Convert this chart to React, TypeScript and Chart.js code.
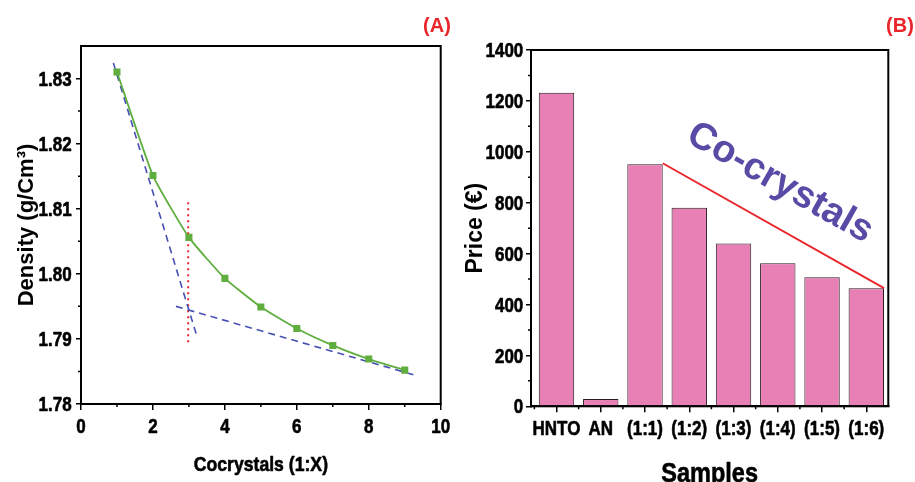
import React, { useEffect, useRef } from "react";
import { Chart, registerables } from "chart.js";
Chart.register(...registerables);

// ---- Panel A data ----
const ratioX = [1, 2, 3, 4, 5, 6, 7, 8, 9];
const density = [1.831, 1.8151, 1.8056, 1.7993, 1.7949, 1.7916, 1.789, 1.7869, 1.7852];
const tangent1X = [0.9, 3.2];
const tangent1Y = [1.8324, 1.7908];
const tangent2X = [2.64, 9.24];
const tangent2Y = [1.795, 1.7845];
const markerX = [2.98, 2.98];
const markerY = [1.811, 1.7889];
const densityMinorTicks = [1.785, 1.795, 1.805, 1.815, 1.825];
const ratioMinorTicks = [1, 3, 5, 7, 9];

// ---- Panel B data ----
const samples = ["HNTO", "AN", "(1:1)", "(1:2)", "(1:3)", "(1:4)", "(1:5)", "(1:6)"];
const prices = [1232, 29, 951, 780, 640, 562, 507, 464];
const trendX = [2.4, 7.4];
const trendY = [955, 464];
const priceMinorTicks = [100, 300, 500, 700, 900, 1100, 1300];
const sampleMinorTicks = [-0.5, 0.5, 1.5, 2.5, 3.5, 4.5, 5.5, 6.5];

const REG = '"Liberation Sans", Arial, sans-serif';
const GREEN = "#5fae3e";
const BLUE = "#4650b4";
const RED = "#e9262c";
const PINK = "#e980b5";
const PURPLE = "#5a4aa6";
const SX = 0.85; // horizontal condensing of the reference's narrow bold type

const pts = (xs: number[], ys: number[]) => xs.map((x, i) => ({ x, y: ys[i] }));

function narrowText(
  ctx: CanvasRenderingContext2D,
  text: string,
  x: number,
  y: number,
  size: number,
  align: "left" | "center" | "right",
  sx = SX,
  color = "#000"
) {
  ctx.save();
  ctx.font = `bold ${size}px ${REG}`;
  ctx.fillStyle = color;
  ctx.strokeStyle = color;
  ctx.lineWidth = 0.6;
  ctx.lineJoin = "round";
  ctx.textBaseline = "alphabetic";
  ctx.textAlign = "left";
  const w = ctx.measureText(text).width * sx;
  const x0 = align === "center" ? x - w / 2 : align === "right" ? x - w : x;
  ctx.translate(x0, y);
  ctx.scale(sx, 1);
  ctx.fillText(text, 0, 0);
  ctx.strokeText(text, 0, 0);
  ctx.restore();
}

function drawFrameAndMinors(chart: any, xMinor: number[], yMinor: number[]) {
  const { ctx, chartArea, scales } = chart;
  const { left, right, top, bottom } = chartArea;
  ctx.save();
  ctx.strokeStyle = "#000";
  ctx.lineWidth = 2;
  ctx.strokeRect(left, top, right - left, bottom - top);
  ctx.lineWidth = 1.5;
  ctx.beginPath();
  yMinor.forEach((v) => {
    const y = scales.y.getPixelForValue(v);
    ctx.moveTo(left, y);
    ctx.lineTo(left - 3, y);
  });
  xMinor.forEach((v) => {
    const x = scales.x.getPixelForValue(v);
    if (x < left - 0.5 || x > right + 0.5) return;
    ctx.moveTo(x, bottom);
    ctx.lineTo(x, bottom + 3);
  });
  ctx.stroke();
  ctx.restore();
}

function drawTickLabels(
  chart: any,
  xFmt: (v: number) => string,
  yFmt: (v: number) => string,
  yGap: number,
  xBase: number,
  size: number
) {
  const { ctx, chartArea, scales } = chart;
  scales.y.ticks.forEach((t: any) => {
    const y = scales.y.getPixelForValue(t.value);
    narrowText(ctx, yFmt(t.value), chartArea.left - yGap, y + 0.358 * size, size, "right");
  });
  scales.x.ticks.forEach((t: any) => {
    const x = scales.x.getPixelForValue(t.value);
    narrowText(ctx, xFmt(t.value), x, chartArea.bottom + xBase, size, "center");
  });
}

function panelLabel(ctx: CanvasRenderingContext2D, text: string, x: number, y: number) {
  ctx.save();
  ctx.fillStyle = RED;
  ctx.font = `bold 20px ${REG}`;
  ctx.textAlign = "center";
  ctx.textBaseline = "middle";
  ctx.fillText(text, x, y);
  ctx.restore();
}

export default function App() {
  const refA = useRef<HTMLCanvasElement>(null);
  const refB = useRef<HTMLCanvasElement>(null);

  useEffect(() => {
    const chartA = new Chart(refA.current!, {
      type: "scatter",
      data: {
        datasets: [
          {
            data: pts(ratioX, density),
            showLine: true,
            borderColor: GREEN,
            backgroundColor: GREEN,
            borderWidth: 1.8,
            pointStyle: "rect",
            pointRadius: 5,
            pointBorderWidth: 0,
            tension: 0.15,
          },
          {
            data: pts(tangent1X, tangent1Y),
            showLine: true,
            borderColor: BLUE,
            borderDash: [7, 5],
            borderWidth: 1.6,
            pointRadius: 0,
          },
          {
            data: pts(tangent2X, tangent2Y),
            showLine: true,
            borderColor: BLUE,
            borderDash: [7, 5],
            borderWidth: 1.6,
            pointRadius: 0,
          },
          {
            data: pts(markerX, markerY),
            showLine: true,
            borderColor: RED,
            borderDash: [2, 4],
            borderWidth: 2,
            pointRadius: 0,
          },
        ],
      },
      options: {
        animation: false,
        responsive: false,
        devicePixelRatio: 1,
        layout: { padding: { left: 0, right: 19.3, top: 46, bottom: 0 } },
        plugins: { legend: { display: false }, tooltip: { enabled: false } },
        scales: {
          x: {
            type: "linear",
            min: 0,
            max: 10,
            afterFit: (s: any) => {
              s.height = 78;
            },
            ticks: { display: false, stepSize: 2, includeBounds: false },
            grid: { drawOnChartArea: false, tickLength: 6, color: "#000", lineWidth: 1.5 },
            border: { color: "#000", width: 2 },
          },
          y: {
            type: "linear",
            min: 1.78,
            max: 1.835,
            afterFit: (s: any) => {
              s.width = 81;
            },
            ticks: { display: false, stepSize: 0.01, includeBounds: false },
            grid: { drawOnChartArea: false, tickLength: 5, color: "#000", lineWidth: 1.5 },
            border: { color: "#000", width: 2 },
            title: {
              display: true,
              text: "Density (g/Cm³)",
              color: "#000",
              font: { family: REG, size: 22, weight: "bold" },
              padding: { top: 13.3, bottom: 0 },
            },
          },
        },
      },
      plugins: [
        {
          id: "decorA",
          afterDraw(chart: any) {
            drawFrameAndMinors(chart, ratioMinorTicks, densityMinorTicks);
            drawTickLabels(
              chart,
              (v) => String(Math.round(v)),
              (v) => Number(v).toFixed(2),
              9.3,
              29.3,
              20
            );
            const { chartArea, ctx } = chart;
            narrowText(ctx, "Cocrystals (1:X)", (chartArea.left + chartArea.right) / 2, 470.5, 21, "center", 0.84);
            panelLabel(ctx, "(A)", 437, 26);
          },
        },
      ],
    } as any);

    const chartB = new Chart(refB.current!, {
      type: "bar",
      data: {
        datasets: [
          {
            type: "bar",
            data: pts(prices.map((_, i) => i), prices),
            backgroundColor: PINK,
            borderColor: "#2a1a22",
            borderWidth: 1,
            barPercentage: 0.8,
            categoryPercentage: 1,
            order: 1,
          },
          {
            type: "line",
            data: pts(trendX, trendY),
            borderColor: RED,
            borderWidth: 2,
            pointRadius: 0,
            order: 0,
          },
        ],
      },
      options: {
        animation: false,
        responsive: false,
        devicePixelRatio: 1,
        layout: { padding: { left: 0, right: 26.7, top: 50, bottom: 0 } },
        plugins: { legend: { display: false }, tooltip: { enabled: false } },
        scales: {
          x: {
            type: "linear",
            min: -0.576,
            max: 7.497,
            offset: false,
            afterFit: (s: any) => {
              s.height = 75.7;
            },
            ticks: { display: false, stepSize: 1, autoSkip: false, includeBounds: false },
            grid: { offset: false, drawOnChartArea: false, tickLength: 6, color: "#000", lineWidth: 1.5 },
            border: { color: "#000", width: 2 },
          },
          y: {
            type: "linear",
            min: 0,
            max: 1400,
            afterFit: (s: any) => {
              s.width = 71;
            },
            ticks: { display: false, stepSize: 200 },
            grid: { drawOnChartArea: false, tickLength: 5, color: "#000", lineWidth: 1.5 },
            border: { color: "#000", width: 2 },
            title: {
              display: true,
              text: "Price (€)",
              color: "#000",
              font: { family: REG, size: 23, weight: "bold" },
              padding: { top: 1.7, bottom: 0 },
            },
          },
        },
      },
      plugins: [
        {
          id: "decorB",
          afterDraw(chart: any) {
            drawFrameAndMinors(chart, sampleMinorTicks, priceMinorTicks);
            drawTickLabels(
              chart,
              (v) => samples[Math.round(v)] ?? "",
              (v) => String(Math.round(v)),
              7.7,
              28.7,
              20
            );
            const { chartArea } = chart;
            const ctx = chart.ctx as CanvasRenderingContext2D;
            narrowText(ctx, "Samples", (chartArea.left + chartArea.right) / 2, 482.3, 28, "center", 0.84);
            panelLabel(ctx, "(B)", 440, 26);
            ctx.save();
            ctx.translate(320, 183);
            ctx.rotate((29.6 * Math.PI) / 180);
            ctx.fillStyle = PURPLE;
            ctx.font = `bold 38px ${REG}`;
            ctx.textAlign = "center";
            ctx.textBaseline = "middle";
            ctx.fillText("Co-crystals", 0, 0);
            ctx.restore();
          },
        },
      ],
    } as any);

    return () => {
      chartA.destroy();
      chartB.destroy();
    };
  }, []);

  return (
    <div style={{ position: "fixed", left: 0, top: 0, width: 915, height: 482, background: "#fff", overflow: "hidden" }}>
      <canvas ref={refA} width={460} height={482} style={{ position: "absolute", left: 0, top: 0, width: 460, height: 482 }} />
      <canvas ref={refB} width={455} height={482} style={{ position: "absolute", left: 460, top: 0, width: 455, height: 482 }} />
    </div>
  );
}
